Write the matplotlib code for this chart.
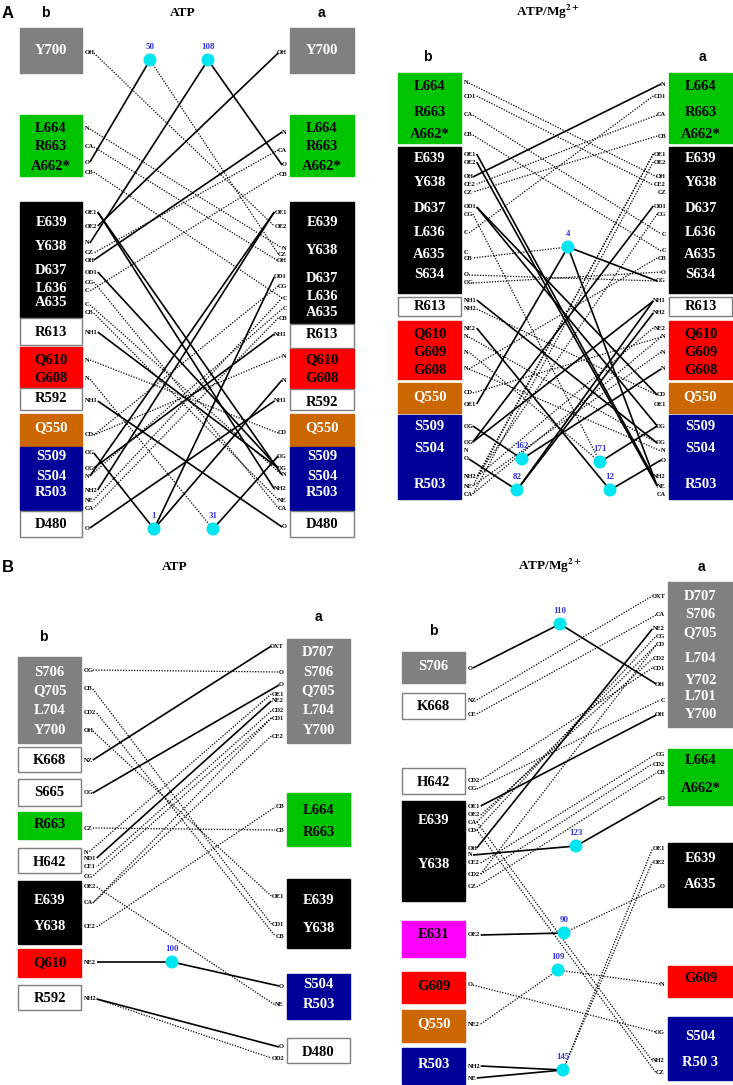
import matplotlib
matplotlib.use("Agg")
import matplotlib.pyplot as plt
from matplotlib.patches import Rectangle, Circle

plt.rcParams['mathtext.fontset'] = 'stix'

# ---------------- data ----------------
PALETTE = {"gray": "#808080", "green": "#00c400", "black": "#000000", "white": "#ffffff",
           "red": "#ff0000", "orange": "#cc6600", "blue": "#000099", "magenta": "#ff00ff"}
TEXT_ON = {"gray": "white", "green": "black", "black": "white", "white": "black",
           "red": "black", "orange": "white", "blue": "white", "magenta": "black"}

# A - ATP
a1_b_res = [["Y700"], ["L664", "R663", "A662*"], ["E639", "Y638", "D637", "L636", "A635"], ["R613"],
            ["Q610", "G608"], ["R592"], ["Q550"], ["S509", "S504", "R503"], ["D480"]]
a1_b_col = ["gray", "green", "black", "white", "red", "white", "orange", "blue", "white"]
a1_a_res = a1_b_res
a1_a_col = a1_b_col
a1_atoms = ["OH", "N", "CA", "O", "CB", "OE1", "OE2", "N", "CZ", "OH", "OD1", "CG", "C", "C", "CB",
            "NH1", "N", "N", "NH1", "CD", "OG", "OG", "N", "NH2", "NE", "CA", "O"]
a1_waters = ["50", "108", "1", "31"]
a1_links = [("w0", "b3", "-"), ("w0", "a8", ":"), ("w1", "a3", "-"), ("w1", "b7", "-"),
            ("b0", "a6", ":"), ("a0", "b6", "-"), ("a1", "b9", "-"), ("b1", "a7", ":"),
            ("b2", "a9", ":"), ("a2", "b8", ":"), ("a4", "b12", ":"), ("b4", "a12", ":"),
            ("b5", "a23", "-"), ("b5", "a22", "-"), ("a5", "b23", "-"), ("a5", "b22", "-"),
            ("b10", "a21", "-"), ("a10", "w2", "-"), ("b15", "a21", "-"), ("a15", "b21", "-"),
            ("b18", "a26", "-"), ("b26", "a18", "-"), ("w2", "a17", "-"), ("w2", "b20", "-"),
            ("w3", "b17", ":"), ("w3", "a20", "-"), ("b16", "a19", ":"), ("b19", "a16", ":"),
            ("b14", "a24", ":"), ("a14", "b25", ":"), ("b11", "a25", ":"), ("a12", "b24", ":"),
            ("a13", "b22", ":"), ("b13", "a22", ":"), ("a11", "b19", ":")]

# A - ATP/Mg2+
a2_res = [["L664", "R663", "A662*"], ["E639", "Y638", "D637", "L636", "A635", "S634"], ["R613"],
          ["Q610", "G609", "G608"], ["Q550"], ["S509", "S504", "R503"]]
a2_col = ["green", "black", "white", "red", "orange", "blue"]
a2_atoms = ["N", "CD1", "CA", "CB", "OE1", "OE2", "OH", "CE2", "CZ", "OD1", "CG", "C", "C", "CB",
            "O", "OG", "NH1", "NH2", "NE2", "N", "N", "N", "CD", "OE1", "OG", "OG", "N", "O",
            "NH2", "NE", "CA"]
a2_waters = ["4", "162", "82", "171", "12"]
a2_links = [("a0", "b6", "-"), ("b0", "a6", ":"), ("b1", "a7", ":"), ("b2", "a11", ":"),
            ("b3", "a12", ":"), ("a2", "b7", ":"), ("a3", "b8", ":"), ("a1", "b11", ":"),
            ("b4", "a28", "-"), ("b5", "a29", "-"), ("b9", "a24", "-"), ("a9", "b25", "-"),
            ("a4", "b29", ":"), ("a5", "b30", ":"), ("a4", "b28", ":"), ("b10", "w3", ":"),
            ("a10", "b28", ":"), ("w0", "b13", ":"), ("b14", "a15", ":"), ("b15", "a14", ":"),
            ("w0", "a15", "-"), ("w0", "b23", "-"), ("w0", "a29", "-"), ("b16", "a25", "-"),
            ("a16", "b25", "-"), ("b18", "w4", "-"), ("w4", "a27", "-"), ("b24", "w1", "-"),
            ("b27", "w2", "-"), ("w1", "a21", "-"), ("w2", "a16", "-"), ("w2", "a17", "-"),
            ("w3", "a24", "-"), ("w3", "b20", ":"), ("b17", "a22", ":"), ("b19", "a25", ":"),
            ("b21", "a26", ":"), ("b22", "a19", ":"), ("a18", "b28", ":"), ("a19", "b30", ":"),
            ("a20", "b29", ":"), ("a13", "b21", ":"), ("a22", "b9", "-")]

# B - ATP
b1_b_res = [["S706", "Q705", "L704", "Y700"], ["K668"], ["S665"], ["R663"], ["H642"],
            ["E639", "Y638"], ["Q610"], ["R592"]]
b1_b_col = ["gray", "white", "white", "green", "white", "black", "red", "white"]
b1_a_res = [["D707", "S706", "Q705", "L704", "Y700"], ["L664", "R663"], ["E639", "Y638"],
            ["S504", "R503"], ["D480"]]
b1_a_col = ["gray", "green", "black", "blue", "white"]
b1_b_atoms = ["OG", "CB", "CD2", "OH", "NZ", "OG", "CZ", "N", "ND1", "CE1", "CG", "OE2", "CA",
              "CE2", "NE2", "NH2"]
b1_a_atoms = ["OXT", "O", "O", "OE1", "NE2", "CD2", "CD1", "CE2", "CB", "CB", "OE1", "CD1", "CB",
              "O", "NE", "O", "OD2"]
b1_waters = ["100"]
b1_links = [("b0", "a1", ":"), ("b4", "a0", "-"), ("b5", "a2", "-"), ("b1", "a11", ":"),
            ("b2", "a12", ":"), ("b3", "a10", ":"), ("a3", "b7", ":"), ("a4", "b8", "-"),
            ("a5", "b9", ":"), ("a6", "b10", ":"), ("a7", "b12", ":"), ("a6", "b12", ":"),
            ("b13", "a8", ":"), ("b6", "a9", ":"), ("b11", "a14", ":"), ("b14", "w0", "-"),
            ("w0", "a13", "-"), ("b15", "a15", "-"), ("b15", "a16", ":")]

# B - ATP/Mg2+
b2_b_res = [["S706"], ["K668"], ["H642"], ["E639", "Y638"], ["E631"], ["G609"], ["Q550"], ["R503"]]
b2_b_col = ["gray", "white", "white", "black", "magenta", "red", "orange", "blue"]
b2_a_res = [["D707", "S706", "Q705", "L704", "Y702", "L701", "Y700"], ["L664", "A662*"],
            ["E639", "A635"], ["G609"], ["S504", "R50 3"]]
b2_a_col = ["gray", "green", "black", "red", "blue"]
b2_b_atoms = ["O", "NZ", "CE", "CD2", "CG", "OE1", "OE2", "CA", "CD", "OH", "N", "CE2", "CD2",
              "CZ", "OE2", "O", "NE2", "NH2", "NE"]
b2_a_atoms = ["OXT", "CA", "NE2", "CG", "CD", "CD2", "CD1", "OH", "C", "OH", "CG", "CD2", "CB",
              "O", "OE1", "OE2", "O", "N", "OG", "NH2", "CZ"]
b2_waters = ["110", "123", "90", "109", "145"]
b2_links = [("b0", "w0", "-"), ("w0", "a7", "-"), ("b1", "a0", ":"), ("b2", "a1", ":"),
            ("b3", "a6", ":"), ("b4", "a8", ":"), ("b5", "a9", "-"), ("b6", "a5", ":"),
            ("b7", "a4", ":"), ("b8", "a3", ":"), ("b9", "a2", "-"), ("b10", "w1", "-"),
            ("w1", "a13", "-"), ("b11", "a10", ":"), ("b12", "a11", ":"), ("b13", "a12", ":"),
            ("b12", "a4", ":"), ("b7", "a19", ":"), ("b8", "a20", ":"), ("b14", "w2", "-"),
            ("w2", "a16", ":"), ("b16", "w3", ":"), ("w3", "a17", ":"), ("b15", "a18", ":"),
            ("b17", "w4", "-"), ("b18", "w4", "-"), ("w4", "a14", ":"), ("w4", "a15", ":")]

# ---------------- layout (pixels) ----------------
a1_b_lay = [(28, 73, [51]), (115, 176, [129, 147, 166]), (202, 317, [222, 247, 270, 289, 303]),
            (318, 345, [332]), (347, 387, [360, 378]), (388, 410, [399]), (414, 446, [428]),
            (447, 510, [456, 476, 493]), (511, 537, [525])]
a1_a_lay = [(28, 73, [51]), (115, 176, [129, 147, 166]), (202, 323, [223, 250, 278, 297, 312]),
            (324, 348, [334]), (349, 388, [360, 379]), (389, 410, [402]), (414, 446, [428]),
            (447, 510, [456, 476, 493]), (511, 537, [525])]
a1_b_y = [53, 129, 147, 162, 172, 212, 226, 243, 253, 260, 272, 282, 291, 305, 313, 332, 360, 379,
          401, 435, 453, 468, 476, 490, 500, 508, 528]
a1_a_y = [53, 132, 150, 165, 174, 212, 226, 248, 254, 261, 277, 286, 298, 309, 318, 334, 356, 380,
          401, 433, 456, 468, 475, 489, 500, 508, 527]
a1_w_xy = [(150, 60), (208, 60), (154, 529), (213, 529)]

a2_lay = [(73, 143, [87, 113, 135]), (147, 293, [159, 183, 208, 233, 254, 275]), (297, 316, [307]),
          (321, 379, [334, 352, 370]), (383, 413, [397]), (415, 499, [426, 448, 485])]
a2_b_y = [83, 96, 115, 135, 154, 162, 177, 184, 192, 207, 214, 233, 252, 258, 275, 283, 300, 309,
          328, 337, 352, 369, 393, 404, 426, 442, 450, 459, 477, 486, 494]
a2_a_y = [84, 96, 115, 136, 154, 162, 177, 185, 192, 206, 214, 234, 251, 258, 272, 281, 301, 313,
          328, 337, 352, 369, 395, 405, 426, 443, 451, 460, 477, 486, 494]
a2_w_xy = [(568, 247), (522, 459), (517, 490), (600, 462), (610, 490)]

b1_b_lay = [(657, 743, [672, 691, 711, 731]), (747, 772, [760]), (779, 806, [793]),
            (812, 839, [825]), (848, 873, [862]), (881, 944, [900, 926]), (949, 977, [963]),
            (985, 1010, [998])]
b1_a_lay = [(639, 743, [653, 672, 691, 711, 731]), (793, 846, [810, 833]), (879, 948, [900, 928]),
            (974, 1019, [985, 1004]), (1038, 1063, [1052])]
b1_b_y = [670, 689, 713, 731, 760, 793, 828, 852, 858, 867, 876, 887, 903, 927, 962, 999]
b1_a_y = [646, 672, 685, 694, 701, 711, 718, 736, 807, 830, 896, 924, 936, 986, 1005, 1047, 1058]
b1_w_xy = [(172, 962)]

b2_b_lay = [(652, 683, [667]), (693, 719, [707]), (768, 794, [782]), (801, 901, [821, 864]),
            (921, 957, [935]), (972, 1003, [986]), (1010, 1042, [1024]), (1048, 1084, [1065])]
b2_a_lay = [(582, 727, [596, 615, 633, 659, 681, 697, 715]), (749, 805, [761, 788]),
            (843, 907, [859, 885]), (966, 997, [979]), (1017, 1080, [1036, 1062])]
b2_b_y = [668, 700, 714, 780, 789, 806, 815, 822, 830, 848, 855, 863, 874, 887, 935, 985, 1024,
          1066, 1078]
b2_a_y = [596, 615, 629, 636, 645, 659, 668, 684, 700, 715, 754, 764, 773, 798, 849, 862, 887, 984,
          1032, 1061, 1073]
b2_w_xy = [(560, 624), (576, 846), (564, 933), (558, 970), (563, 1070)]

SERIF = "Liberation Serif"
SANS = "Liberation Sans"
CHAR_W = 3.9


def draw_boxes(ax, x0, x1, res, cols, lay):
    for names, c, (top, bot, ys) in zip(res, cols, lay):
        ec = "#7f7f7f" if c == "white" else PALETTE[c]
        ax.add_patch(Rectangle((x0, top), x1 - x0, bot - top, facecolor=PALETTE[c],
                               edgecolor=ec, lw=1.0, zorder=2))
        for n, y in zip(names, ys):
            ax.text((x0 + x1) / 2, y, n, ha="center", va="center", fontsize=10.5,
                    fontweight="bold", family=SERIF, color=TEXT_ON[c], zorder=3)


def draw_panel(ax, bx, axx, b_res, b_col, b_lay, a_res, a_col, a_lay,
               b_atoms, b_y, a_atoms, a_y, waters, w_xy, links):
    draw_boxes(ax, bx[0], bx[1], b_res, b_col, b_lay)
    draw_boxes(ax, axx[0], axx[1], a_res, a_col, a_lay)
    pts = {}
    lx = bx[1] + 3
    for i, (n, y) in enumerate(zip(b_atoms, b_y)):
        ax.text(lx, y, n, ha="left", va="center", fontsize=4.6, fontweight="bold",
                family=SERIF, zorder=3)
        pts["b%d" % i] = (lx + CHAR_W * len(n) + 1, y)
    rx = axx[0] - 3
    for i, (n, y) in enumerate(zip(a_atoms, a_y)):
        ax.text(rx, y, n, ha="right", va="center", fontsize=4.6, fontweight="bold",
                family=SERIF, zorder=3)
        pts["a%d" % i] = (rx - CHAR_W * len(n) - 1, y)
    for i, (w, (x, y)) in enumerate(zip(waters, w_xy)):
        pts["w%d" % i] = (x, y)
        ax.add_patch(Circle((x, y), 6.5, facecolor="#00e6f0", edgecolor="none", zorder=4))
        ax.text(x, y - 13, w, ha="center", va="center", fontsize=6.5, fontweight="bold",
                family=SERIF, color="#3333dd", zorder=4)
    for p, q, st in links:
        (x1, y1), (x2, y2) = pts[p], pts[q]
        if st == "-":
            ax.plot([x1, x2], [y1, y2], color="black", lw=1.2, zorder=1,
                    solid_capstyle="butt")
        else:
            ax.plot([x1, x2], [y1, y2], color="black", lw=0.9, zorder=1,
                    linestyle=(0, (1, 1.2)))


fig = plt.figure(figsize=(7.33, 10.85), dpi=100)
ax = fig.add_axes([0, 0, 1, 1])
ax.set_xlim(0, 733)
ax.set_ylim(1085, 0)
ax.axis("off")

draw_panel(ax, (20, 82), (290, 354), a1_b_res, a1_b_col, a1_b_lay, a1_a_res, a1_a_col, a1_a_lay,
           a1_atoms, a1_b_y, a1_atoms, a1_a_y, a1_waters, a1_w_xy, a1_links)
draw_panel(ax, (398, 461), (669, 732), a2_res, a2_col, a2_lay, a2_res, a2_col, a2_lay,
           a2_atoms, a2_b_y, a2_atoms, a2_a_y, a2_waters, a2_w_xy, a2_links)
draw_panel(ax, (18, 81), (287, 350), b1_b_res, b1_b_col, b1_b_lay, b1_a_res, b1_a_col, b1_a_lay,
           b1_b_atoms, b1_b_y, b1_a_atoms, b1_a_y, b1_waters, b1_w_xy, b1_links)
draw_panel(ax, (402, 465), (668, 733), b2_b_res, b2_b_col, b2_b_lay, b2_a_res, b2_a_col, b2_a_lay,
           b2_b_atoms, b2_b_y, b2_a_atoms, b2_a_y, b2_waters, b2_w_xy, b2_links)

# titles and labels
for txt, x, y in [("A", 8, 13), ("B", 8, 567)]:
    ax.text(x, y, txt, ha="center", va="center", fontsize=12, fontweight="bold", family=SANS)
for txt, x, y in [("b", 45, 13), ("a", 321, 13), ("b", 427, 57), ("a", 702, 57),
                  ("a", 318, 617), ("b", 43, 637), ("a", 701, 567), ("b", 433, 631)]:
    ax.text(x, y, txt, ha="center", va="center", fontsize=10, fontweight="bold", family=SANS)
for txt, x, y in [("ATP", 183, 13), ("ATP/Mg$^{\\mathbf{2+}}$", 548, 12), ("ATP", 175, 567),
                  ("ATP/Mg$^{\\mathbf{2+}}$", 550, 566)]:
    ax.text(x, y, txt, ha="center", va="center", fontsize=9.5, fontweight="bold", family=SERIF)

fig.savefig("out.png", dpi=100)
